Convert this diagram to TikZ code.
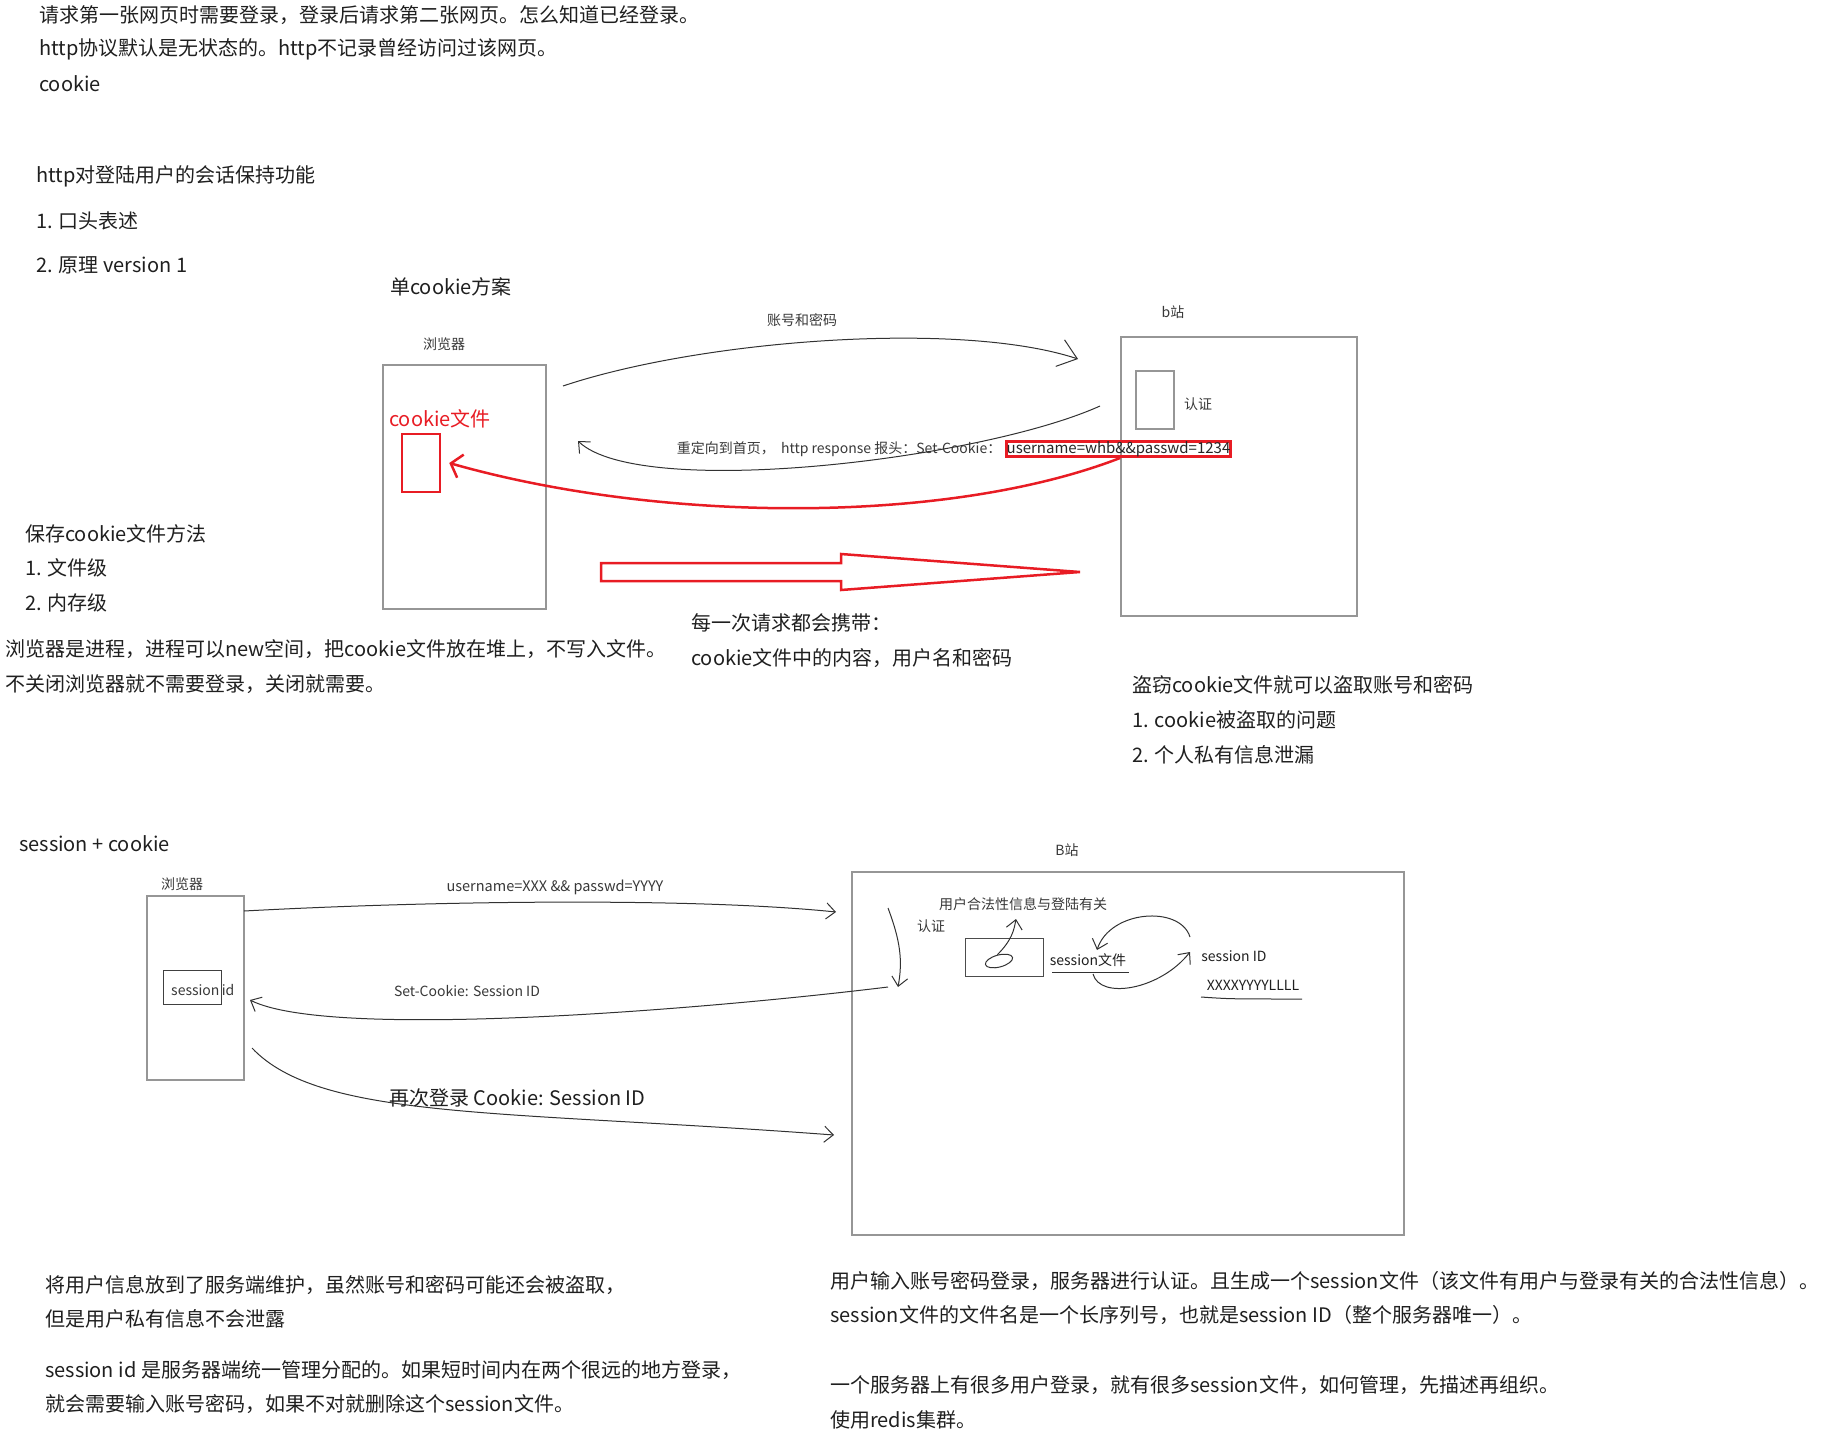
\documentclass[tikz,border=0pt]{standalone}
\usepackage{fontspec}
\setmainfont{Noto Sans CJK SC}
\usetikzlibrary{shapes.geometric, arrows.meta, positioning}
\definecolor{inkred}{RGB}{232,28,36}
\definecolor{framegray}{RGB}{150,150,150}
\definecolor{pengray}{RGB}{50,50,50}

\begin{document}
\begin{tikzpicture}[
    x=1pt, y=-1pt,
    txt/.style={anchor=west, inner sep=0pt, font=\fontsize{20}{24}\selectfont, text=black!88},
    lbl/.style={inner sep=0pt, font=\fontsize{14}{16}\selectfont, text=black!78},
    frame/.style={rectangle, draw=framegray, line width=1.5pt, inner sep=0pt},
    pen/.style={draw=pengray, line width=1pt, -{Straight Barb[length=9pt, width=16pt]}},
    bigpen/.style={draw=pengray, line width=1pt, -{Straight Barb[length=18pt, width=28pt]}},
    redpen/.style={draw=inkred, line width=2.5pt}
]
\useasboundingbox (0,0) rectangle (1841,1439);

% intro
\node (intro1) [txt] at (39,15) {请求第一张网页时需要登录，登录后请求第二张网页。怎么知道已经登录。};
\node (intro2) [txt] at (39,49) {http协议默认是无状态的。http不记录曾经访问过该网页。};
\node (intro3) [txt] at (39,84) {cookie};
\node (keep) [txt] at (36,176) {http对登陆用户的会话保持功能};
\node (keep1) [txt] at (36,221) {1. 口头表述};
\node (keep2) [txt] at (36,265) {2. 原理 version 1};

% single cookie
\node (single) [txt] at (390,287) {单cookie方案};
\node (browser) [frame, minimum width=163pt, minimum height=244pt] at (464.5,487) {};
\node (browserlbl) [lbl] at (444,344) {浏览器};
\node (cookielbl) [txt, text=inkred] at (389,419) {cookie文件};
\node (cookiefile) [frame, draw=inkred, line width=2.5pt, minimum width=38pt, minimum height=58pt] at (421,463) {};
\node (site) [frame, minimum width=236pt, minimum height=279pt] at (1239,476.5) {};
\node (sitelbl) [lbl] at (1173,312) {b站};
\node (auth) [frame, minimum width=38pt, minimum height=58pt] at (1155,400) {};
\node (authlbl) [lbl, anchor=west] at (1184,404) {认证};
\node (pwdlbl) [lbl] at (802,320) {账号和密码};
\node (setck) [frame, draw=inkred, line width=2.5pt, inner sep=2pt, lbl, text=black!85, font=\fontsize{15}{17}\selectfont] at (1118.5,449) {username=whb\&\&passwd=1234};
\node (redirect) [lbl, anchor=east] at ([xshift=-4pt]setck.west) {重定向到首页，\ \ http response 报头：Set-Cookie：};

\coordinate (pwdfrom) at (563,386);
\coordinate (pwdto) at (1078,359);
\coordinate (backfrom) at (1100,406);
\coordinate (backto) at (578,441);
\draw [bigpen] (pwdfrom) .. controls (700,340) and (960,320) .. (pwdto);
\draw [pen] (backfrom) .. controls (980,460) and (640,500) .. (backto);
\draw [redpen, -{Straight Barb[length=10pt, width=24pt]}] (setck.south -| site.west) .. controls (950,524) and (664,524) .. ([xshift=8pt]cookiefile.east);

% carry arrow
\draw [redpen, line join=miter] (601,563) -- (841,563) -- (841,554) -- (1080,572)
    -- (841,590) -- (841,581) -- (601,581) -- cycle;

\node (save) [txt] at (25,534) {保存cookie文件方法};
\node (save1) [txt] at (25,568) {1. 文件级};
\node (save2) [txt] at (25,603) {2. 内存级};
\node (heap1) [txt] at (5,649) {浏览器是进程，进程可以new空间，把cookie文件放在堆上，不写入文件。};
\node (heap2) [txt] at (5,684) {不关闭浏览器就不需要登录，关闭就需要。};
\node (carry1) [txt] at (691,623) {每一次请求都会携带：};
\node (carry2) [txt] at (691,658) {cookie文件中的内容，用户名和密码};
\node (steal) [txt] at (1132,685) {盗窃cookie文件就可以盗取账号和密码};
\node (steal1) [txt] at (1132,720) {1. cookie被盗取的问题};
\node (steal2) [txt] at (1132,755) {2. 个人私有信息泄漏};

% session + cookie
\node (sess) [txt] at (19,844) {session + cookie};
\node (browser2) [frame, minimum width=97pt, minimum height=184pt] at (195.5,988) {};
\node (browser2lbl) [lbl] at (182,884) {浏览器};
\node (sidbox) [frame, draw=black!75, line width=1pt, minimum width=58pt, minimum height=34pt] at (192,987) {};
\node (sidlbl) [lbl, anchor=west] at (171,990) {session\,id};
\node (site2) [frame, minimum width=552pt, minimum height=363pt] at (1128,1053.5) {};
\node (site2lbl) [lbl] at (1067,850) {B站};

\node (loginlbl) [lbl, font=\fontsize{14.5}{16}\selectfont] at (555,887) {username=XXX \&\& passwd=YYYY};
\node (setlbl) [lbl] at (467,991) {Set-Cookie: Session ID};
\node (againlbl) [txt] at (389,1098) {再次登录 Cookie: Session ID};

\coordinate (loginfrom) at (244,911);
\coordinate (loginto) at (836,912);
\coordinate (authtop) at (888,908);
\coordinate (authend) at (898,987);
\coordinate (setto) at (250,1000);
\coordinate (againfrom) at (252,1048);
\coordinate (againto) at (834,1135);
\draw [pen] (loginfrom) .. controls (450,900) and (700,898) .. (loginto);
\draw [pen] (authtop) .. controls (900,940) and (903,960) .. (authend);
\draw [pen] ([xshift=-10pt]authend) .. controls (700,1010) and (330,1040) .. (setto);
\draw [pen] (againfrom) .. controls (320,1120) and (500,1110) .. (againto);

\node (authlbl2) [lbl] at (931,926) {认证};
\node (legal) [lbl] at (1023,904) {用户合法性信息与登陆有关};
\node (filebox) [frame, draw=black!70, line width=1pt, minimum width=78pt, minimum height=38pt] at (1004,957) {};
\node (blob) [draw=pengray, line width=1pt, ellipse, minimum width=28pt, minimum height=12pt, inner sep=0pt, rotate=15] at (999,961) {};
\node (sfile) [lbl, text=black!88] at (1088,960) {session文件};
\node (sid) [lbl, text=black!88] at (1234,956) {session ID};
\node (sidval) [lbl, text=black!88] at (1253,985) {XXXXYYYYLLLL};

\coordinate (fileline1) at (1052,972);
\coordinate (fileline2) at (1129,972);
\coordinate (idline1) at (1201,997);
\coordinate (idline2) at (1302,999);
\coordinate (fileout) at (1093,974);
\coordinate (idin) at (1190,952);
\coordinate (idout) at (1190,937);
\coordinate (filein) at (1097,950);
\coordinate (legalin) at (1016,919);

\draw [pen] (blob.north) .. controls (1012,940) and (1014,930) .. (legalin);
\draw [draw=pengray, line width=1pt] (fileline1) -- (fileline2);
\draw [draw=pengray, line width=1pt] (idline1) .. controls (1230,999) .. (idline2);
\draw [pen] (fileout) .. controls (1100,1000) and (1160,990) .. (idin);
\draw [pen] (idout) .. controls (1180,905) and (1110,910) .. (filein);

% notes
\node (note1) [txt] at (45,1285) {将用户信息放到了服务端维护，虽然账号和密码可能还会被盗取，};
\node (note2) [txt] at (45,1319) {但是用户私有信息不会泄露};
\node (note3) [txt] at (45,1370) {session id 是服务器端统一管理分配的。如果短时间内在两个很远的地方登录，};
\node (note4) [txt] at (45,1404) {就会需要输入账号密码，如果不对就删除这个session文件。};
\node (note5) [txt] at (830,1281) {用户输入账号密码登录，服务器进行认证。且生成一个session文件（该文件有用户与登录有关的合法性信息）。};
\node (note6) [txt] at (830,1315) {session文件的文件名是一个长序列号，也就是session ID（整个服务器唯一）。};
\node (note7) [txt] at (830,1385) {一个服务器上有很多用户登录，就有很多session文件，如何管理，先描述再组织。};
\node (note8) [txt] at (830,1420) {使用redis集群。};

\end{tikzpicture}
\end{document}
